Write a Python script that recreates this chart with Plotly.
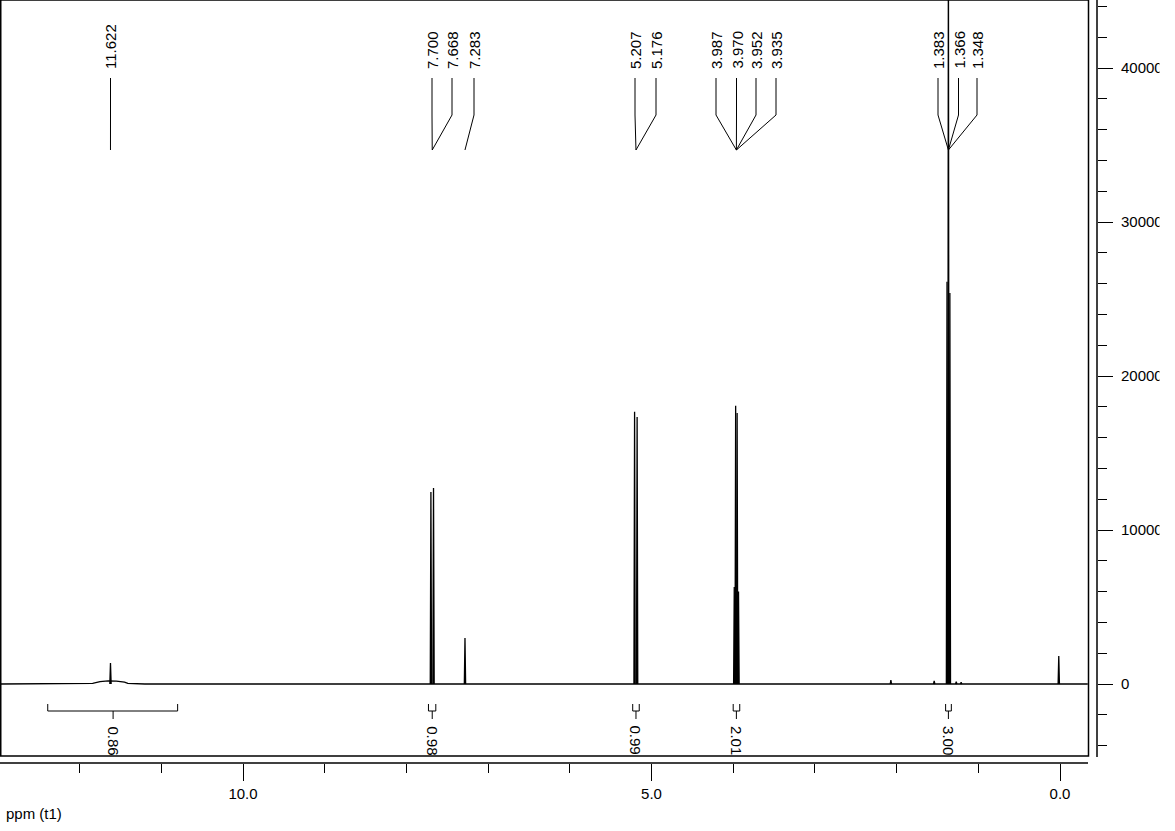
import plotly.graph_objects as go

# ---------------- data ----------------
# peak positions (ppm) and heights (intensity)
peak_ppm = [11.622, 7.700, 7.668, 7.283, 5.207, 5.176,
            3.987, 3.970, 3.952, 3.935, 2.07, 1.54,
            1.383, 1.366, 1.348, 1.27, 1.21, 0.015]
peak_height = [1360, 12470, 12730, 2990, 17680, 17340,
               6300, 18070, 17600, 6000, 260, 200,
               26120, 50500, 25390, 150, 120, 1820]

# baseline with the broad acid hump near 11.6 ppm
base_ppm = [12.97, 12.00, 11.84, 11.75, 11.65, 11.55, 11.45, 11.41, 11.20, -0.34]
base_int = [0, 0, 40, 150, 200, 190, 120, 40, 0, 0]

# peak labels along the top
label_text = ["11.622", "7.700", "7.668", "7.283", "5.207", "5.176",
              "3.987", "3.970", "3.952", "3.935", "1.383", "1.366", "1.348"]
label_target = [11.622, 7.684, 7.684, 7.283, 5.19, 5.19,
                3.961, 3.961, 3.961, 3.961, 1.366, 1.366, 1.366]

# integrals
integ_start = [12.39, 7.73, 5.23, 4.00, 1.40]
integ_end = [10.80, 7.64, 5.15, 3.92, 1.33]
integ_center = [11.59, 7.684, 5.19, 3.961, 1.366]
integ_label = ["0.86", "0.98", "0.99", "2.01", "3.00"]

x_tick_vals = [10, 5, 0]
x_tick_text = ["10.0", "5.0", "0.0"]
y_tick_vals = [0, 10000, 20000, 30000, 40000]
y_tick_text = ["0", "10000", "20000", "30000", "40000"]

# ---------------- layout geometry (pixels) ----------------
W, H = 1175, 831
PLOT_W, PLOT_H = 1097, 763
X0PX, PXPPM = 1060.0, 81.7      # pixel of 0 ppm, pixels per ppm
Y0PX, PXPER = 684.0, 0.0154     # pixel of zero intensity, pixels per unit

x_range = [X0PX / PXPPM, (X0PX - PLOT_W) / PXPPM]
y_range = [(Y0PX - PLOT_H) / PXPER, Y0PX / PXPER]

label_px = [110.5, 432, 452, 474, 635, 656, 716, 736.5, 756, 776, 938, 958.5, 977]


def xp(px):
    return px / PLOT_W


def yp(py):
    return 1 - py / PLOT_H


def px_to_ppm(px):
    return (X0PX - px) / PXPPM


FONT = "Liberation Sans, Arial, sans-serif"
BLACK = "#000000"

fig = go.Figure()

fig.add_trace(go.Scatter(x=base_ppm, y=base_int, mode="lines",
                         line=dict(color=BLACK, width=1.3),
                         hoverinfo="skip", showlegend=False))

half_w = 0.008
px_list, py_list = [], []
for p, h in zip(peak_ppm, peak_height):
    px_list += [p + half_w, p, p - half_w, None]
    py_list += [0, h, 0, None]
fig.add_trace(go.Scatter(x=px_list, y=py_list, mode="lines",
                         line=dict(color=BLACK, width=1.3),
                         connectgaps=False, hoverinfo="skip",
                         showlegend=False))

shapes = []
# frame
shapes.append(dict(type="rect", xref="paper", yref="paper",
                   x0=xp(0.75), x1=xp(1088.5), y0=yp(756), y1=yp(0),
                   line=dict(color=BLACK, width=1.5), layer="above"))
# x axis line
shapes.append(dict(type="line", xref="paper", yref="paper",
                   x0=xp(0), x1=xp(1088), y0=yp(763), y1=yp(763),
                   line=dict(color=BLACK, width=1.5)))
# y axis line
shapes.append(dict(type="line", xref="paper", yref="paper",
                   x0=xp(1097), x1=xp(1097), y0=yp(0), y1=yp(757),
                   line=dict(color=BLACK, width=1.5)))

annotations = []
# peak labels and connectors
for txt, lpx, tgt in zip(label_text, label_px, label_target):
    lx = px_to_ppm(lpx)
    shapes.append(dict(type="line", xref="x", yref="paper",
                       x0=lx, x1=lx, y0=yp(78), y1=yp(115),
                       line=dict(color=BLACK, width=1)))
    shapes.append(dict(type="line", xref="x", yref="paper",
                       x0=lx, x1=tgt, y0=yp(115), y1=yp(150),
                       line=dict(color=BLACK, width=1)))
    annotations.append(dict(x=lx, y=yp(71), xref="x", yref="paper",
                            text=txt, showarrow=False, textangle=-90,
                            xanchor="center", yanchor="bottom",
                            font=dict(family=FONT, size=15, color=BLACK)))

# integrals
for s, e, c, lab in zip(integ_start, integ_end, integ_center, integ_label):
    shapes.append(dict(type="path", xref="x", yref="paper",
                       path=f"M {s},{yp(704)} L {s},{yp(711)} L {e},{yp(711)} L {e},{yp(704)}",
                       line=dict(color=BLACK, width=1)))
    shapes.append(dict(type="line", xref="x", yref="paper",
                       x0=c, x1=c, y0=yp(711), y1=yp(719),
                       line=dict(color=BLACK, width=1)))
    annotations.append(dict(x=c, y=yp(724), xref="x", yref="paper",
                            text=lab, showarrow=False, textangle=90,
                            xanchor="center", yanchor="top",
                            font=dict(family=FONT, size=15, color=BLACK)))

# clip the right edge of the y tick labels as in the original
shapes.append(dict(type="rect", xref="paper", yref="paper",
                   x0=xp(1159.5), x1=xp(1180), y0=-0.2, y1=1.05,
                   fillcolor="white", line=dict(width=0), layer="above"))

annotations.append(dict(x=xp(4), y=yp(813), xref="paper", yref="paper",
                        text="ppm (t1)", showarrow=False,
                        xanchor="left", yanchor="middle",
                        font=dict(family=FONT, size=15, color=BLACK)))

fig.update_layout(
    width=W, height=H,
    margin=dict(l=0, r=W - PLOT_W, t=0, b=H - PLOT_H, pad=0),
    paper_bgcolor="white", plot_bgcolor="white",
    showlegend=False,
    shapes=shapes, annotations=annotations,
    xaxis=dict(range=x_range, showgrid=False, zeroline=False, showline=False,
               ticks="outside", ticklen=17, tickwidth=1.2, tickcolor=BLACK,
               tickmode="array", tickvals=x_tick_vals, ticktext=x_tick_text,
               tickfont=dict(family=FONT, size=15, color=BLACK),
               minor=dict(ticks="outside", dtick=1, tick0=0, ticklen=9,
                          tickwidth=1.2, tickcolor=BLACK, showgrid=False),
               automargin=False, fixedrange=True),
    yaxis=dict(range=y_range, side="right", showgrid=False, zeroline=False,
               showline=False, ticks="outside", ticklen=15, tickwidth=1.2,
               tickcolor=BLACK, tickmode="array", tickvals=y_tick_vals,
               ticktext=y_tick_text, ticklabelstandoff=5,
               tickfont=dict(family=FONT, size=15, color=BLACK),
               minor=dict(ticks="outside", dtick=2000, tick0=0, ticklen=9,
                          tickwidth=1.2, tickcolor=BLACK, showgrid=False),
               automargin=False, fixedrange=True),
)

fig.write_html(
    "out.html",
    config={"displayModeBar": False},
    post_script="document.body.style.margin='0px';"
                "document.body.style.overflow='hidden';",
)
